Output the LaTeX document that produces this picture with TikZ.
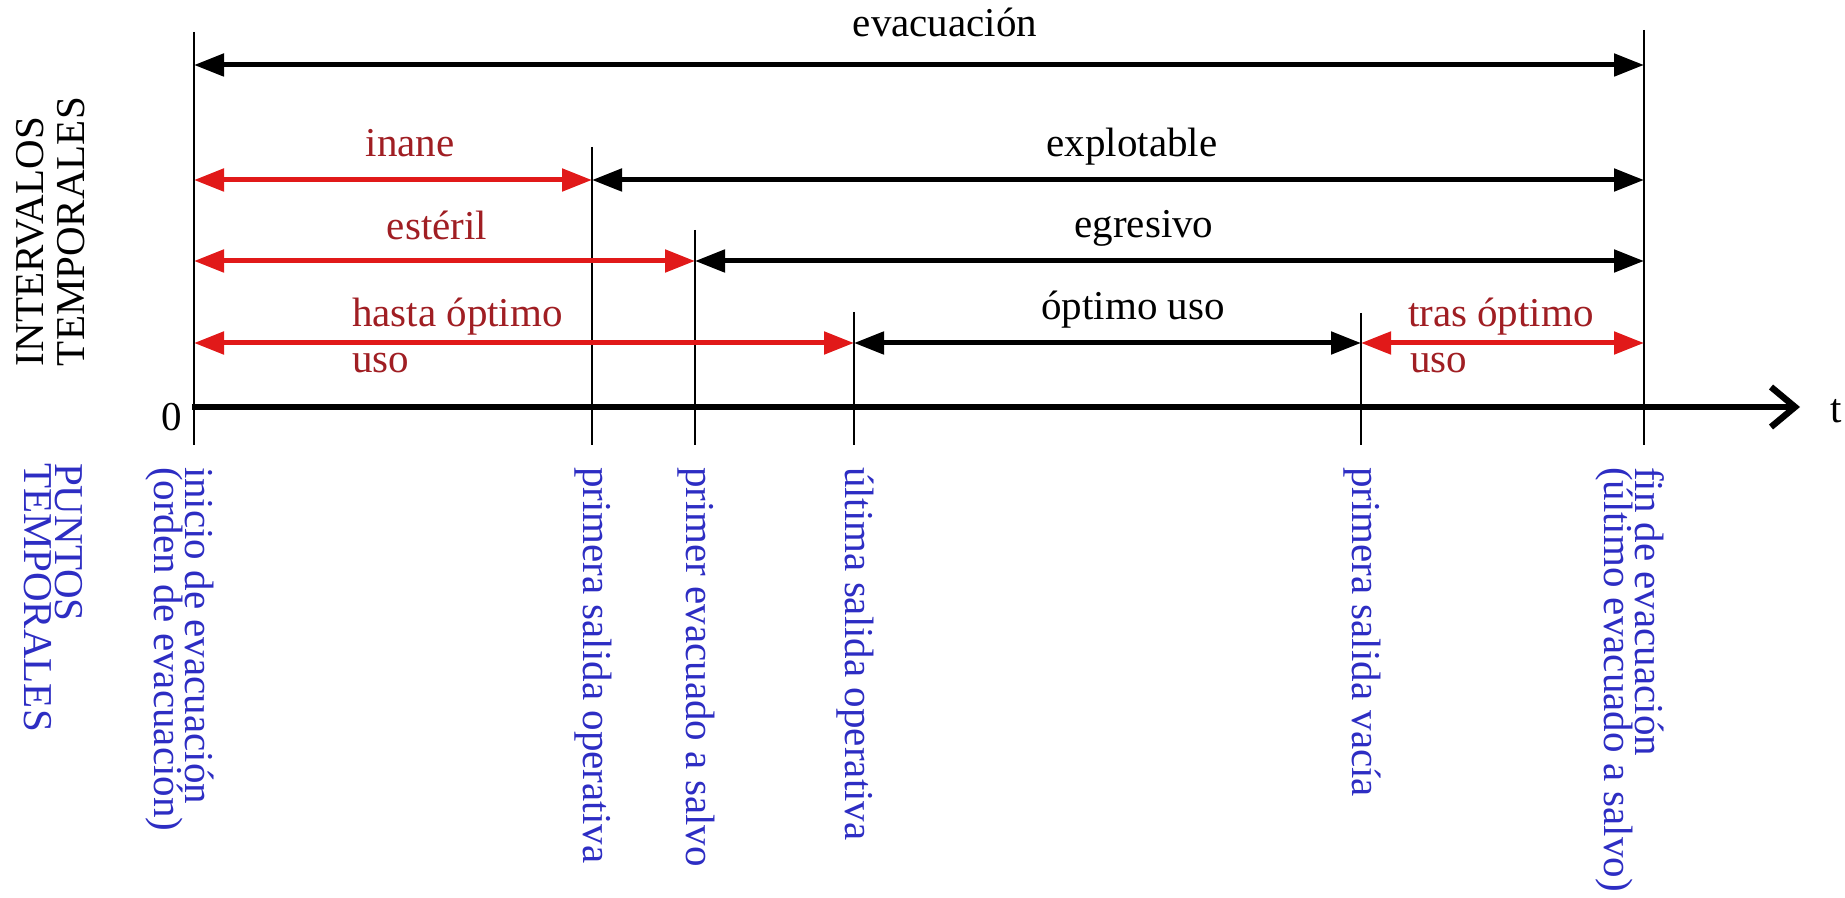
\documentclass[tikz,border=0pt]{standalone}
\usepackage{fontspec}
\setmainfont{Liberation Serif}
\usetikzlibrary{arrows.meta}
\definecolor{arrowred}{RGB}{225,25,25}
\definecolor{textred}{RGB}{160,30,35}
\definecolor{ptblue}{RGB}{45,45,195}
\tikzset{
  lbl/.style={inner sep=0pt, outer sep=0pt},
  redlbl/.style={lbl, text=textred},
  ptlbl/.style={lbl, text=ptblue, rotate=-90, anchor=base west},
  marker/.style={line width=0.9pt},
  span/.style={line width=2.5pt,
    {Triangle[length=15pt,width=11pt]}-{Triangle[length=15pt,width=11pt]}},
  redspan/.style={span, draw=arrowred},
  blackspan/.style={span, draw=black},
  timeaxis/.style={line width=3.2pt, -{Straight Barb[length=12pt,width=20pt]}}
}
\begin{document}
\begin{tikzpicture}[x=0.5pt, y=-0.5pt, font=\fontsize{20.5}{24}\selectfont]
\fill[white] (0,0) rectangle (1845,898);
\useasboundingbox (0,0) rectangle (1845,898);

% time points: top and bottom of each vertical marker
\coordinate (m1t) at (194,32);   \coordinate (m1b) at (194,445);
\coordinate (m2t) at (592,147);  \coordinate (m2b) at (592,445);
\coordinate (m3t) at (695,230);  \coordinate (m3b) at (695,445);
\coordinate (m4t) at (854,312);  \coordinate (m4b) at (854,445);
\coordinate (m5t) at (1361,313); \coordinate (m5b) at (1361,445);
\coordinate (m6t) at (1644,30);  \coordinate (m6b) at (1644,445);

\foreach \i in {1,...,6} \draw[marker] (m\i t) -- (m\i b);

% ends of the interval arrows
\coordinate (e1) at (194,65);   \coordinate (e6) at (1644,65);
\coordinate (i1) at (194,180);  \coordinate (i2) at (592,180);  \coordinate (i6) at (1644,180);
\coordinate (s1) at (194,261);  \coordinate (s3) at (695,261);  \coordinate (s6) at (1644,261);
\coordinate (h1) at (194,343);  \coordinate (h4) at (854,343);
\coordinate (h5) at (1361,343); \coordinate (h6) at (1644,343);

% time axis
\coordinate (ax0) at (192,407);
\coordinate (ax1) at (1800,407);
\draw[timeaxis] (ax0) -- (ax1);
\node[lbl, anchor=base] (zero) at (172,430) {0};
\node[lbl, anchor=base] (tlabel) at (1836,422) {t};

% intervals
\draw[blackspan] (e1) -- (e6);
\draw[redspan] (i1) -- (i2);
\draw[blackspan] (i2) -- (i6);
\draw[redspan] (s1) -- (s3);
\draw[blackspan] (s3) -- (s6);
\draw[redspan] (h1) -- (h4);
\draw[blackspan] (h4) -- (h5);
\draw[redspan] (h5) -- (h6);

\node[lbl, anchor=base] (evac) at (945,37) {evacuación};
\node[redlbl, anchor=base] (inane) at (410,157) {inane};
\node[lbl, anchor=base] (explo) at (1132,157) {explotable};
\node[redlbl, anchor=base] (esteril) at (437,240) {estéril};
\node[lbl, anchor=base] (egres) at (1144,238) {egresivo};
\node[redlbl, anchor=base west] (hasta) at (352,327) {hasta óptimo};
\node[redlbl, anchor=base west] (hastauso) at (352,372) {uso};
\node[lbl, anchor=base] (optimo) at (1133,320) {óptimo uso};
\node[redlbl, anchor=base west] (tras) at (1408,327) {tras óptimo};
\node[redlbl, anchor=base west] (trasuso) at (1410,372) {uso};

% side titles
\node[lbl, rotate=90, anchor=base west] (intA) at (43,366) {INTERVALOS};
\node[lbl, rotate=90, anchor=base west] (intB) at (84,366) {TEMPORALES};
\node[ptlbl] (ptA) at (55,463) {PUNTOS};
\node[ptlbl] (ptB) at (25,463) {TEMPORALES};

% time point labels
\node[ptlbl] (p1a) at (185,467) {inicio de evacuación};
\node[ptlbl] (p1b) at (154,467) {(orden de evacuación)};
\node[ptlbl] (p2) at (583,467) {primera salida operativa};
\node[ptlbl] (p3) at (686,467) {primer evacuado a salvo};
\node[ptlbl] (p4) at (845,467) {última salida operativa};
\node[ptlbl] (p5) at (1352,467) {primera salida vacía};
\node[ptlbl] (p6a) at (1635,467) {fin de evacuación};
\node[ptlbl] (p6b) at (1604,467) {(último evacuado a salvo)};
\end{tikzpicture}
\end{document}
